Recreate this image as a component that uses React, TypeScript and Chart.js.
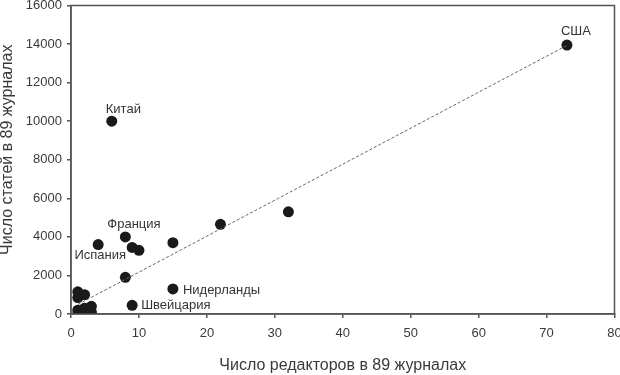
import React, { useEffect, useRef } from "react";
import { Chart, registerables } from "chart.js";

Chart.register(...registerables);

// Number of editors (x) and number of articles (y) per country
const editors = [73, 6, 8, 4, 9, 10, 15, 22, 32, 8, 15, 9, 1, 1, 2, 1, 1, 2, 2, 3, 3];
const articles = [13950, 10000, 4000, 3600, 3450, 3300, 3700, 4650, 5300, 1900, 1300, 450, 1150, 850, 1000, 0, 200, 100, 300, 400, 100];
const countries = ["США", "Китай", "Франция", "Испания", "", "", "", "", "", "", "Нидерланды", "Швейцария", "", "", "", "", "", "", "", "", ""];

// Trend line end points
const trendX = [1, 73];
const trendY = [490, 13930];

const xTicks = [0, 10, 20, 30, 40, 50, 60, 70, 80];
const yTicks = [0, 2000, 4000, 6000, 8000, 10000, 12000, 14000, 16000];

const xTitle = "Число редакторов в 89 журналах";
const yTitle = "Число статей в 89 журналах";

// label placement relative to point (pixels)
const labelOffsets: Record<string, { dx: number; dy: number; align: CanvasTextAlign }> = {
  "США": { dx: -6, dy: -14, align: "left" },
  "Китай": { dx: -6, dy: -12, align: "left" },
  "Франция": { dx: -18, dy: -12, align: "left" },
  "Испания": { dx: 2, dy: 11, align: "center" },
  "Нидерланды": { dx: 10, dy: 1, align: "left" },
  "Швейцария": { dx: 9, dy: 0, align: "left" },
};

const FONT = "'Liberation Sans', Arial, Helvetica, sans-serif";

const framePlugin = {
  id: "frame",
  afterDraw(chart: any) {
    const { ctx, chartArea } = chart;
    ctx.save();
    ctx.strokeStyle = "#555";
    ctx.lineWidth = 1.5;
    ctx.strokeRect(chartArea.left, chartArea.top, chartArea.right - chartArea.left, chartArea.bottom - chartArea.top);
    // y axis title
    ctx.translate(8, chartArea.top + (chartArea.bottom - chartArea.top) / 2 - 10);
    ctx.rotate(-Math.PI / 2);
    ctx.font = `16px ${FONT}`;
    ctx.fillStyle = "#3a3a3a";
    ctx.textAlign = "center";
    ctx.textBaseline = "middle";
    ctx.fillText(yTitle, 0, 0);
    ctx.restore();
  },
};

const labelPlugin = {
  id: "pointLabels",
  afterDatasetsDraw(chart: any) {
    const { ctx } = chart;
    const xs = chart.scales.x;
    const ys = chart.scales.y;
    ctx.save();
    ctx.font = `13px ${FONT}`;
    ctx.fillStyle = "#333";
    ctx.textBaseline = "middle";
    countries.forEach((name, i) => {
      if (!name) return;
      const o = labelOffsets[name];
      const px = xs.getPixelForValue(editors[i]);
      const py = ys.getPixelForValue(articles[i]);
      ctx.textAlign = o.align;
      ctx.fillText(name, px + o.dx, py + o.dy);
    });
    ctx.restore();
  },
};

export default function App() {
  const ref = useRef<HTMLCanvasElement>(null);
  useEffect(() => {
    document.body.style.margin = "0";
    const chart = new Chart(ref.current!, {
      type: "scatter",
      data: {
        datasets: [
          {
            type: "line",
            data: trendX.map((x, i) => ({ x, y: trendY[i] })),
            borderColor: "#666",
            borderWidth: 1,
            borderDash: [3, 2],
            pointRadius: 0,
            fill: false,
          } as any,
          {
            data: editors.map((x, i) => ({ x, y: articles[i] })),
            backgroundColor: "#1a1a1a",
            borderColor: "#1a1a1a",
            pointRadius: 5.5,
            pointBorderWidth: 0,
          },
        ],
      },
      options: {
        animation: false,
        responsive: false,
        layout: { padding: { top: 5, right: 5, left: 0, bottom: 0 } },
        plugins: { legend: { display: false }, tooltip: { enabled: false } },
        scales: {
          x: {
            type: "linear",
            min: 0,
            max: 80,
            afterBuildTicks: (s: any) => { s.ticks = xTicks.map((v) => ({ value: v })); },
            afterFit: (s: any) => { s.height = 61; s.paddingLeft = 0; s.paddingRight = 0; },
            ticks: { color: "#3a3a3a", font: { size: 13, family: FONT }, padding: 8, maxRotation: 0, callback: (v: any) => String(v) },
            grid: { display: true, drawOnChartArea: false, drawTicks: true, tickLength: 4, color: "#555", lineWidth: 1.5 },
            border: { display: true, color: "#555", width: 1.5 },
            title: { display: true, text: xTitle, color: "#3a3a3a", font: { size: 16, family: FONT }, padding: { top: 0, bottom: 0 } },
          },
          y: {
            type: "linear",
            min: 0,
            max: 16000,
            afterBuildTicks: (s: any) => { s.ticks = yTicks.map((v) => ({ value: v })); },
            afterFit: (s: any) => { s.width = 71; s.paddingTop = 0; s.paddingBottom = 0; },
            ticks: { color: "#3a3a3a", font: { size: 13, family: FONT }, padding: 5, callback: (v: any) => String(v) },
            grid: { display: true, drawOnChartArea: false, drawTicks: true, tickLength: 4, color: "#555", lineWidth: 1.5 },
            border: { display: true, color: "#555", width: 1.5 },
            title: { display: false, text: yTitle },
          },
        },
      },
      plugins: [framePlugin, labelPlugin],
    });
    return () => chart.destroy();
  }, []);
  return (
    <div style={{ width: 620, height: 375 }}>
      <canvas ref={ref} width={620} height={375} />
    </div>
  );
}
